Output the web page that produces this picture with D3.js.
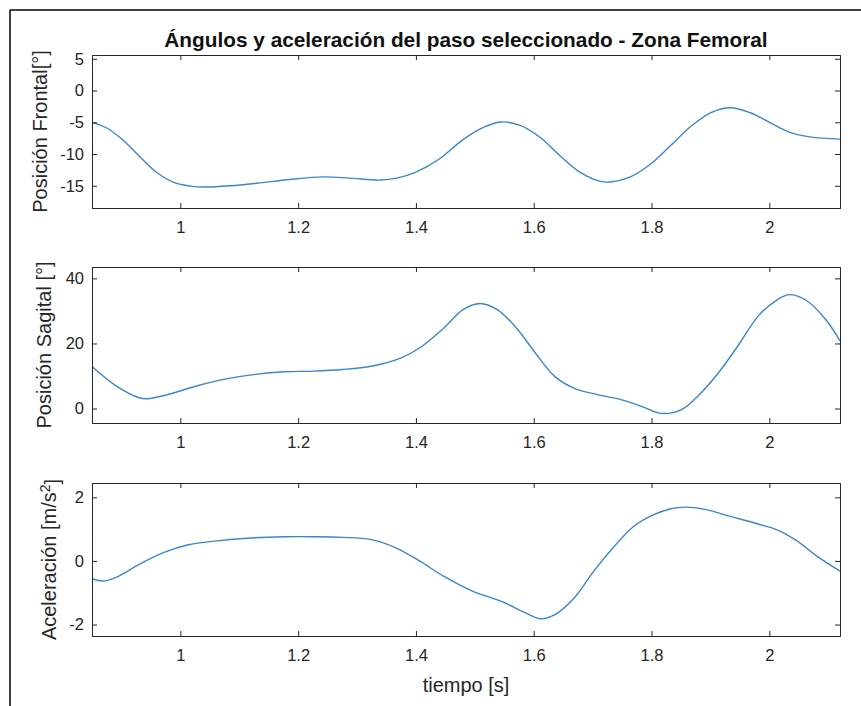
<!DOCTYPE html>
<html>
<head>
<meta charset="utf-8">
<script src="https://cdn.jsdelivr.net/npm/d3@7"></script>
<style>
  html, body { margin: 0; padding: 0; background: #fff; }
  text { font-family: "Liberation Sans", Arial, Helvetica, sans-serif; fill: #262626; }
</style>
</head>
<body>
<svg id="chart" width="861" height="706"></svg>
<script>
// ---- Data ----
const title = "Ángulos y aceleración del paso seleccionado - Zona Femoral";
const xLabel = "tiempo [s]";
const xTicks = [1, 1.2, 1.4, 1.6, 1.8, 2];
const xTickLabels = ["1", "1.2", "1.4", "1.6", "1.8", "2"];

// Panel 1: Posición Frontal [°]
const frontalT = [0.85, 0.875, 0.9, 0.93, 0.96, 0.99, 1.017, 1.042, 1.085, 1.13, 1.186, 1.243, 1.288, 1.339, 1.367, 1.401, 1.441, 1.476, 1.51, 1.544, 1.577, 1.611, 1.645, 1.679, 1.713, 1.73, 1.764, 1.798, 1.832, 1.866, 1.9, 1.934, 1.968, 2.001, 2.035, 2.069, 2.12];
const frontalV = [-5.0, -5.9, -7.6, -10.3, -12.9, -14.5, -15.05, -15.2, -15.0, -14.6, -14.0, -13.6, -13.8, -14.1, -13.8, -12.8, -10.7, -8.0, -6.0, -4.95, -5.5, -7.4, -10.3, -12.9, -14.3, -14.4, -13.6, -11.6, -8.7, -5.7, -3.5, -2.7, -3.5, -5.05, -6.6, -7.3, -7.65];
const frontalTicks = [5, 0, -5, -10, -15];
const frontalLabel = "Posición Frontal[°]";

// Panel 2: Posición Sagital [°]
const sagitalT = [0.85, 0.889, 0.93, 0.943, 0.979, 1.029, 1.078, 1.127, 1.177, 1.226, 1.275, 1.324, 1.374, 1.406, 1.447, 1.48, 1.509, 1.538, 1.571, 1.603, 1.636, 1.669, 1.71, 1.751, 1.784, 1.817, 1.85, 1.883, 1.915, 1.948, 1.981, 2.014, 2.034, 2.063, 2.096, 2.12];
const sagitalV = [12.9, 7.2, 3.3, 3.0, 4.3, 7.0, 9.1, 10.5, 11.3, 11.5, 12.0, 13.0, 15.5, 18.6, 24.7, 30.4, 32.3, 30.4, 24.7, 17.0, 9.8, 6.2, 4.2, 2.6, 0.6, -1.5, -0.4, 4.6, 11.3, 19.6, 28.4, 33.5, 35.0, 33.2, 27.3, 20.8];
const sagitalTicks = [40, 20, 0];
const sagitalLabel = "Posición Sagital [°]";

// Panel 3: Aceleración [m/s²]
const acelT = [0.85, 0.869, 0.889, 0.93, 0.971, 1.012, 1.062, 1.119, 1.177, 1.226, 1.275, 1.324, 1.365, 1.406, 1.447, 1.496, 1.545, 1.587, 1.612, 1.636, 1.669, 1.702, 1.735, 1.768, 1.801, 1.833, 1.858, 1.891, 1.932, 1.981, 2.014, 2.047, 2.08, 2.12];
const acelV = [-0.56, -0.63, -0.53, -0.11, 0.26, 0.5, 0.63, 0.72, 0.76, 0.76, 0.74, 0.67, 0.42, 0.0, -0.48, -0.95, -1.27, -1.64, -1.82, -1.69, -1.16, -0.32, 0.42, 1.06, 1.43, 1.64, 1.69, 1.62, 1.41, 1.16, 0.97, 0.63, 0.16, -0.32];
const acelTicks = [2, 0, -2];

const xDomain = [0.85, 2.12];

// ---- Layout ----
const svg = d3.select("#chart");
const left = 92, right = 840;
const tickFont = 16.5, labelFont = 20;
const axisColor = "#262626";
const lineColor = "#3a86cf";

const panels = [
  { t: frontalT, v: frontalV, ticks: frontalTicks, label: frontalLabel, top: 55, bottom: 208, yDomain: [-18.5, 5.6], labelX: 40 },
  { t: sagitalT, v: sagitalV, ticks: sagitalTicks, label: sagitalLabel, top: 267, bottom: 423, yDomain: [-4.45, 43.5], labelX: 44 },
  { t: acelT, v: acelV, ticks: acelTicks, label: null, top: 483, bottom: 636, yDomain: [-2.36, 2.45], labelX: 49 }
];

// outer frame (left and top edges visible)
svg.append("line").attr("x1", 10).attr("y1", 10).attr("x2", 861).attr("y2", 10).attr("stroke", "#000").attr("stroke-width", 1.5);
svg.append("line").attr("x1", 10).attr("y1", 10).attr("x2", 10).attr("y2", 706).attr("stroke", "#000").attr("stroke-width", 1.5);

const x = d3.scaleLinear().domain(xDomain).range([left, right]);

panels.forEach((p, i) => {
  const y = d3.scaleLinear().domain(p.yDomain).range([p.bottom, p.top]);
  const g = svg.append("g");

  // data line
  const data = p.t.map((t, k) => [t, p.v[k]]);
  const line = d3.line().x(d => x(d[0])).y(d => y(d[1])).curve(d3.curveCatmullRom.alpha(0.5));
  g.append("path").datum(data).attr("d", line).attr("fill", "none")
    .attr("stroke", lineColor).attr("stroke-width", 1.4);

  // axes with inward ticks (MATLAB style)
  const tl = 5;
  const xb = d3.axisBottom(x).tickValues(xTicks).tickSize(-tl).tickPadding(tl + 8)
    .tickFormat((d, k) => xTickLabels[k]);
  const xt = d3.axisTop(x).tickValues(xTicks).tickSize(-tl).tickFormat("");
  const yl = d3.axisLeft(y).tickValues(p.ticks).tickSize(-tl).tickPadding(tl + 3)
    .tickFormat(d => d < 0 ? "-" + Math.abs(d) : String(d));
  const yr = d3.axisRight(y).tickValues(p.ticks).tickSize(-tl).tickFormat("");

  const styleAxis = sel => {
    sel.selectAll("path.domain").attr("stroke", axisColor).attr("stroke-width", 1);
    sel.selectAll(".tick line").attr("stroke", axisColor).attr("stroke-width", 1);
    sel.selectAll(".tick text").attr("fill", axisColor)
      .style("font-family", '"Liberation Sans", Arial, sans-serif').style("font-size", tickFont + "px");
  };
  g.append("g").attr("transform", `translate(0,${p.bottom})`).call(xb).call(styleAxis);
  g.append("g").attr("transform", `translate(0,${p.top})`).call(xt).call(styleAxis);
  g.append("g").attr("transform", `translate(${left},0)`).call(yl).call(styleAxis);
  g.append("g").attr("transform", `translate(${right},0)`).call(yr).call(styleAxis);

  // y label
  const cy = (p.top + p.bottom) / 2;
  const lab = g.append("text")
    .attr("transform", `translate(${p.labelX},${cy}) rotate(-90)`)
    .attr("text-anchor", "middle").attr("dy", "0.35em")
    .style("font-size", labelFont + "px");
  if (p.label) {
    lab.text(p.label);
  } else {
    lab.append("tspan").text("Aceleración [m/s");
    lab.append("tspan").attr("dy", "-0.45em").style("font-size", (labelFont * 0.7) + "px").text("2");
    lab.append("tspan").attr("dy", "0.45em").text("]");
  }
});

// title
svg.append("text").attr("x", (left + right) / 2).attr("y", 40).attr("dy", "0.35em")
  .attr("text-anchor", "middle").style("font-size", "20.8px").style("font-weight", "bold")
  .style("fill", "#111").text(title);

// x label
svg.append("text").attr("x", (left + right) / 2).attr("y", 685).attr("dy", "0.35em")
  .attr("text-anchor", "middle").style("font-size", labelFont + "px").text(xLabel);
</script>
</body>
</html>
